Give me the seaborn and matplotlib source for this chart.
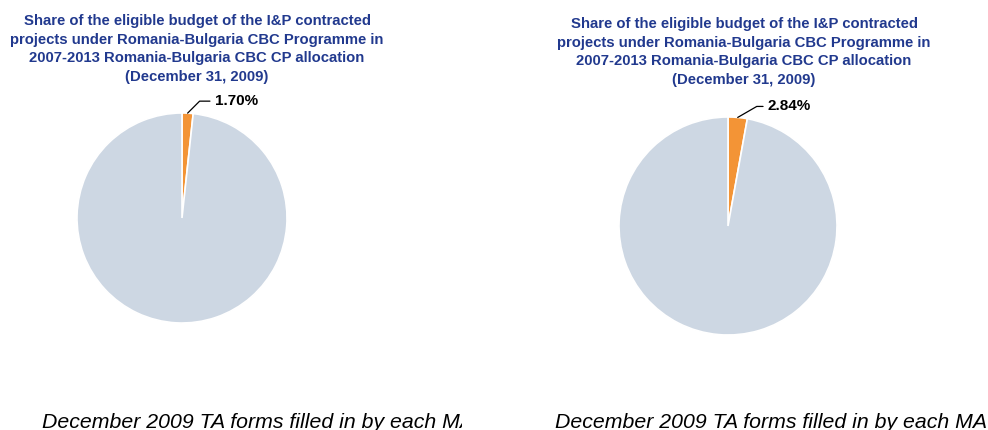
import matplotlib
matplotlib.use("Agg")
import matplotlib.pyplot as plt
import seaborn as sns
import numpy as np

# Shares of the programme allocation (percent)
share_labels = ["I&P contracted projects", "Remaining allocation"]
share_left = [1.70, 98.30]
share_right = [2.84, 97.16]

title_text = ("Share of the eligible budget of the I&P contracted\n"
              "projects under Romania-Bulgaria CBC Programme in\n"
              "2007-2013 Romania-Bulgaria CBC CP allocation\n"
              "(December 31, 2009)")
source_text = "December 2009 TA forms filled in by each MA"

sns.set_theme(style="white")
plt.rcParams["font.family"] = ["Liberation Sans", "DejaVu Sans"]

slice_colors = sns.color_palette(["#F39436", "#CDD7E3"])
title_color = "#21398E"

W, H = 988, 430
fig = plt.figure(figsize=(W / 100, H / 100), dpi=100)
fig.patch.set_facecolor("white")


def px_axes(x0, y0, w, h):
    """Axes placed from pixel box (top-left origin)."""
    return fig.add_axes([x0 / W, 1 - (y0 + h) / H, w / W, h / H])


def draw_pie(ax, values, offset, angle_b):
    wedges, _ = ax.pie(values, colors=slice_colors, startangle=90,
                       counterclock=False,
                       wedgeprops=dict(edgecolor="white", linewidth=1.2))
    ax.set_xlim(-1, 1)
    ax.set_ylim(-1, 1)
    ax.set_aspect("equal")
    w = wedges[0]
    mid = np.deg2rad((w.theta1 + w.theta2) / 2)
    xy = (np.cos(mid), np.sin(mid))
    ax.annotate(f"{values[0]:.2f}%", xy=xy, xytext=offset,
                textcoords="offset pixels", ha="left", va="center",
                fontsize=11, fontweight="heavy", color="black",
                annotation_clip=False,
                arrowprops=dict(arrowstyle="-", color="black", lw=0.9,
                                shrinkA=1, shrinkB=0,
                                connectionstyle=f"angle,angleA=0,angleB={angle_b},rad=0"))


ax_l = px_axes(77, 113, 210, 210)
draw_pie(ax_l, share_left, (27, 12), 45)

ax_r = px_axes(619, 117, 218, 218)
draw_pie(ax_r, share_right, (30, 11), 30)

for cx, cy in [(197, 49), (744, 52)]:
    fig.text(cx / W, 1 - cy / H, title_text, ha="center", va="center",
             fontsize=10.7, fontweight="bold", color=title_color,
             linespacing=1.45)

# Source notes, each cut off at its panel edge
for x0, x1, tx in [(0, 462, 42), (540, 988, 555)]:
    ax_s = px_axes(x0, 395, x1 - x0, 35)
    ax_s.set_axis_off()
    ax_s.text((tx - x0) / (x1 - x0), 2 / 35,
              source_text, transform=ax_s.transAxes, ha="left",
              va="baseline", fontsize=15.3, style="italic", color="black",
              clip_on=True)

fig.savefig("out.png", dpi=100, facecolor="white")
